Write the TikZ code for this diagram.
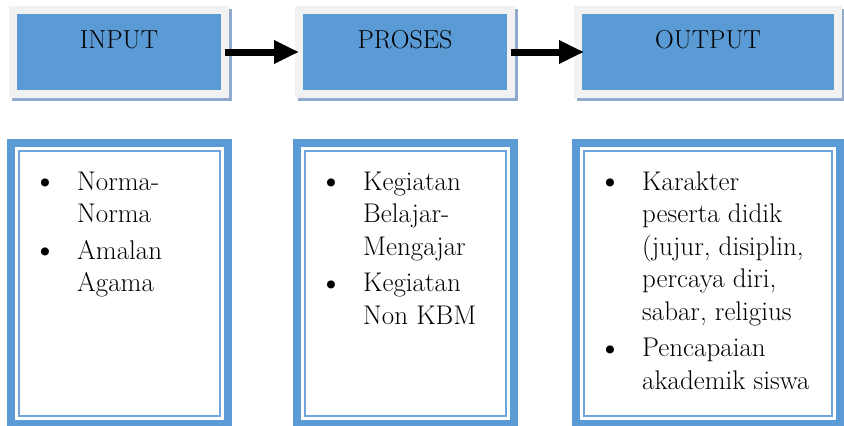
\documentclass[tikz,border=0pt]{standalone}
\usepackage{fontspec}
\usetikzlibrary{arrows.meta}
\definecolor{boxblue}{HTML}{5B9BD5}
\definecolor{framegray}{HTML}{F2F2F2}
\definecolor{shadowblue}{HTML}{8FAACC}
\definecolor{thinblue}{HTML}{6FA5DA}
\newcommand{\bulletmark}{\makebox[0pt][c]{\raisebox{-2.5pt}{\fontsize{36}{36}\selectfont\textbullet}}}
\begin{document}
\begin{tikzpicture}[x=1pt,y=-1pt,
  topbox/.style={fill=boxblue, draw=framegray, line width=8pt, inner sep=0pt, outer sep=0pt,
    text height=38pt, text depth=46pt, font=\fontsize{26}{30}\selectfont,
    preaction={draw=shadowblue, line width=8pt, transform canvas={shift={(3pt,-3pt)}}}},
  flowarrow/.style={line width=7pt, -{Triangle[length=25pt,width=22pt]}},
  botbox/.style={draw=boxblue, line width=8pt, inner sep=0pt, outer sep=0pt, anchor=north west, minimum height=281pt},
  thinline/.style={draw=thinblue, line width=2.2pt},
  itemtext/.style={anchor=base west, inner sep=0pt, font=\fontsize{27}{32.5}\selectfont}
]
\useasboundingbox (0,0) rectangle (844,426);

% top boxes
\node[topbox, minimum width=212pt] (inp) at (119,52) {INPUT};
\node[topbox, minimum width=212pt] (pro) at (405,52) {PROSES};
\node[topbox, minimum width=260pt] (out) at (708,52) {OUTPUT};

% arrows
\draw[flowarrow] (inp.east) -- (pro.west);
\draw[flowarrow, shorten >=-6pt] (pro.east) -- (out.west);

% bottom boxes
\node[botbox, minimum width=217pt] (inb) at (11,143) {};
\node[botbox, minimum width=217pt] (prb) at (297,143) {};
\node[botbox, minimum width=264pt] (outb) at (576,143) {};

\foreach \b in {inb,prb,outb}
  \draw[thinline] ([shift={(8,8)}]\b.north west) rectangle ([shift={(-8,-8)}]\b.south east);

% texts
\node[itemtext] (int) at ([shift={(34,47)}]inb.north west)
  {\begin{tabular}[t]{@{}p{32pt}@{}l@{}}
   \bulletmark & Norma-\\ & Norma\\[4pt]
   \bulletmark & Amalan\\ & Agama
   \end{tabular}};
\node[itemtext] (prt) at ([shift={(34,47)}]prb.north west)
  {\begin{tabular}[t]{@{}p{32pt}@{}l@{}}
   \bulletmark & Kegiatan\\ & Belajar-\\ & Mengajar\\[4pt]
   \bulletmark & Kegiatan\\ & Non KBM
   \end{tabular}};
\node[itemtext] (outt) at ([shift={(34,47)}]outb.north west)
  {\begin{tabular}[t]{@{}p{32pt}@{}l@{}}
   \bulletmark & Karakter\\ & peserta didik\\ & (jujur, disiplin,\\ & percaya diri,\\ & sabar, religius\\[4pt]
   \bulletmark & Pencapaian\\ & akademik siswa
   \end{tabular}};
\end{tikzpicture}
\end{document}
